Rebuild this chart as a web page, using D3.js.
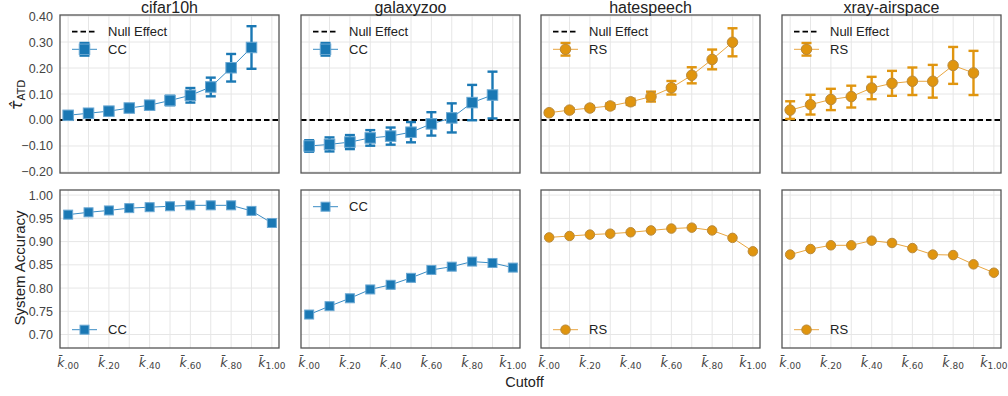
<!DOCTYPE html>
<html><head><meta charset="utf-8">
<script src="https://cdn.jsdelivr.net/npm/d3@7"></script>
<style>body{margin:0;background:#fff}svg{display:block;font-family:"Liberation Sans",Arial,sans-serif}</style>
</head><body><div id="chart"></div>
<script>
const datasets = ["cifar10h", "galaxyzoo", "hatespeech", "xray-airspace"];
const methods = ["CC", "CC", "RS", "RS"];
const cutoffsTop = [0, 0.1, 0.2, 0.3, 0.4, 0.5, 0.6, 0.7, 0.8, 0.9];
const cutoffsBottom = [0, 0.1, 0.2, 0.3, 0.4, 0.5, 0.6, 0.7, 0.8, 0.9, 1.0];
const xTickValues = [0, 0.2, 0.4, 0.6, 0.8, 1.0];
const xTickSubs = [".00", ".20", ".40", ".60", ".80", "1.00"];
const yTopTicks = [-0.2, -0.1, 0, 0.1, 0.2, 0.3, 0.4];
const yBotTicks = [0.70, 0.75, 0.80, 0.85, 0.90, 0.95, 1.00];

// tau ATD estimates and error half-widths
const tauCifar = [0.018, 0.026, 0.034, 0.046, 0.057, 0.075, 0.095, 0.127, 0.201, 0.279];
const errCifar = [0.006, 0.008, 0.010, 0.012, 0.014, 0.018, 0.028, 0.036, 0.053, 0.082];
const tauGalaxy = [-0.100, -0.094, -0.085, -0.069, -0.062, -0.047, -0.015, 0.008, 0.067, 0.096];
const errGalaxy = [0.022, 0.027, 0.027, 0.030, 0.033, 0.039, 0.045, 0.056, 0.068, 0.090];
const tauHate = [0.028, 0.038, 0.046, 0.054, 0.070, 0.090, 0.124, 0.172, 0.233, 0.299];
const errHate = [0.006, 0.007, 0.008, 0.010, 0.012, 0.019, 0.026, 0.031, 0.038, 0.054];
const tauXray = [0.038, 0.059, 0.079, 0.090, 0.123, 0.141, 0.149, 0.149, 0.210, 0.181];
const errXray = [0.034, 0.038, 0.041, 0.042, 0.043, 0.048, 0.053, 0.063, 0.071, 0.085];

// system accuracy
const accCifar = [0.958, 0.963, 0.967, 0.972, 0.974, 0.976, 0.978, 0.978, 0.978, 0.966, 0.940];
const accGalaxy = [0.743, 0.761, 0.778, 0.797, 0.807, 0.822, 0.839, 0.846, 0.857, 0.854, 0.844];
const accHate = [0.909, 0.912, 0.915, 0.917, 0.920, 0.924, 0.928, 0.930, 0.924, 0.908, 0.879];
const accXray = [0.872, 0.884, 0.892, 0.892, 0.902, 0.897, 0.886, 0.872, 0.871, 0.851, 0.833];

const tauAll = [tauCifar, tauGalaxy, tauHate, tauXray];
const errAll = [errCifar, errGalaxy, errHate, errXray];
const accAll = [accCifar, accGalaxy, accHate, accXray];

const W = 1008, H = 396;
const panelLeft = [60, 301, 541, 782], panelW = 219;
const topY0 = 15, topY1 = 173, botY0 = 190, botY1 = 348;
const colors = {CC: {fill: "#1a78b4", stroke: "#6aa8d3", line: "#3a8cc4"}, RS: {fill: "#e0950f", stroke: "#b98a3c", line: "#e9a640"}};
const gridC = "#e6e6e6", frameC = "#555", tickC = "#444";

const svg = d3.select("#chart").append("svg").attr("width", W).attr("height", H);

function marker(g, method, x, y, size) {
  const c = colors[method];
  if (method === "CC") {
    g.append("rect").attr("x", x - size/2).attr("y", y - size/2).attr("width", size).attr("height", size)
      .attr("fill", c.fill).attr("stroke", c.stroke).attr("stroke-width", 1);
  } else {
    g.append("circle").attr("cx", x).attr("cy", y).attr("r", size/2)
      .attr("fill", c.fill).attr("stroke", c.stroke).attr("stroke-width", 1);
  }
}

datasets.forEach((name, i) => {
  const m = methods[i], c = colors[m];
  const x = d3.scaleLinear().domain([-0.04, 1.035]).range([panelLeft[i], panelLeft[i] + panelW]);
  const yT = d3.scaleLinear().domain([-0.204, 0.404]).range([topY1, topY0]);
  const yB = d3.scaleLinear().domain([0.671, 1.011]).range([botY1, botY0]);

  [[yT, yTopTicks, topY0, topY1], [yB, yBotTicks, botY0, botY1]].forEach(([y, ticks, y0, y1], row) => {
    const g = svg.append("g");
    g.selectAll(".vg").data(cutoffsBottom).join("line")
      .attr("x1", d => x(d)).attr("x2", d => x(d)).attr("y1", y0).attr("y2", y1)
      .attr("stroke", gridC).attr("stroke-width", 1);
    g.selectAll(".hg").data(ticks).join("line")
      .attr("x1", panelLeft[i]).attr("x2", panelLeft[i] + panelW).attr("y1", d => y(d)).attr("y2", d => y(d))
      .attr("stroke", gridC).attr("stroke-width", 1);
    if (i === 0) {
      const ax = d3.axisLeft(y).tickValues(ticks).tickSize(0).tickPadding(7).tickFormat(d3.format(".2f"));
      const ag = svg.append("g").attr("transform", `translate(${panelLeft[i]},0)`).call(ax);
      ag.select(".domain").remove();
      ag.selectAll("text").attr("font-size", 12.5).attr("fill", tickC).attr("font-family", "Liberation Sans, Arial, sans-serif");
    }
  });

  // top row
  const gt = svg.append("g");
  gt.append("line").attr("x1", panelLeft[i]).attr("x2", panelLeft[i] + panelW).attr("y1", yT(0)).attr("y2", yT(0))
    .attr("stroke", "#000").attr("stroke-width", 1.8).attr("stroke-dasharray", "5.5,3");
  const tau = tauAll[i], err = errAll[i];
  gt.append("path").datum(cutoffsTop.map((k, j) => [k, tau[j]]))
    .attr("d", d3.line().x(d => x(d[0])).y(d => yT(d[1])))
    .attr("fill", "none").attr("stroke", c.line).attr("stroke-width", 1);
  cutoffsTop.forEach((k, j) => {
    const xx = x(k), lo = yT(tau[j] - err[j]), hi = yT(tau[j] + err[j]);
    gt.append("line").attr("x1", xx).attr("x2", xx).attr("y1", lo).attr("y2", hi).attr("stroke", c.fill).attr("stroke-width", 2.4);
    [lo, hi].forEach(yy => gt.append("line").attr("x1", xx - 5).attr("x2", xx + 5).attr("y1", yy).attr("y2", yy).attr("stroke", c.fill).attr("stroke-width", 2.4));
    marker(gt, m, xx, yT(tau[j]), m === "CC" ? 10.5 : 10.5);
  });
  gt.append("rect").attr("x", panelLeft[i]).attr("y", topY0).attr("width", panelW).attr("height", topY1 - topY0)
    .attr("fill", "none").attr("stroke", frameC).attr("stroke-width", 1.3);
  // legend
  const lx = panelLeft[i] + 12;
  gt.append("line").attr("x1", lx).attr("x2", lx + 25).attr("y1", 31.7).attr("y2", 31.7)
    .attr("stroke", "#000").attr("stroke-width", 1.8).attr("stroke-dasharray", "5.5,3");
  gt.append("text").attr("x", lx + 36).attr("y", 36.3).attr("font-size", 13).attr("fill", "#222").text("Null Effect");
  gt.append("line").attr("x1", lx).attr("x2", lx + 25).attr("y1", 49.3).attr("y2", 49.3).attr("stroke", c.line).attr("stroke-width", 1);
  const lmx = lx + 12.5;
  gt.append("line").attr("x1", lmx).attr("x2", lmx).attr("y1", 43).attr("y2", 55.6).attr("stroke", c.fill).attr("stroke-width", 2.4);
  [43, 55.6].forEach(yy => gt.append("line").attr("x1", lmx - 5).attr("x2", lmx + 5).attr("y1", yy).attr("y2", yy).attr("stroke", c.fill).attr("stroke-width", 2.4));
  marker(gt, m, lmx, 49.3, 10.5);
  gt.append("text").attr("x", lx + 36).attr("y", 54).attr("font-size", 13).attr("fill", "#222").text(m);

  // title
  svg.append("text").attr("x", panelLeft[i] + panelW / 2).attr("y", 12.5).attr("text-anchor", "middle")
    .attr("font-size", 16).attr("fill", "#222").text(name);

  // bottom row
  const gb = svg.append("g");
  const acc = accAll[i];
  gb.append("path").datum(cutoffsBottom.map((k, j) => [k, acc[j]]))
    .attr("d", d3.line().x(d => x(d[0])).y(d => yB(d[1])))
    .attr("fill", "none").attr("stroke", c.line).attr("stroke-width", 1);
  cutoffsBottom.forEach((k, j) => marker(gb, m, x(k), yB(acc[j]), m === "CC" ? 9 : 9.5));
  gb.append("rect").attr("x", panelLeft[i]).attr("y", botY0).attr("width", panelW).attr("height", botY1 - botY0)
    .attr("fill", "none").attr("stroke", frameC).attr("stroke-width", 1.3);
  const ly = (name === "galaxyzoo") ? 206.7 : 329.7;
  gb.append("line").attr("x1", lx).attr("x2", lx + 25).attr("y1", ly).attr("y2", ly).attr("stroke", c.line).attr("stroke-width", 1);
  marker(gb, m, lx + 12.5, ly, m === "CC" ? 9 : 9.5);
  gb.append("text").attr("x", lx + 36).attr("y", ly + 4.7).attr("font-size", 13).attr("fill", "#222").text(m);

  // x tick labels
  const xt = svg.append("g");
  xTickValues.forEach((v, j) => {
    const t = xt.append("text").attr("x", x(v)).attr("y", 366.5).attr("text-anchor", "middle")
      .attr("font-family", "DejaVu Sans, sans-serif").attr("fill", tickC);
    t.append("tspan").attr("font-size", 12.5).attr("font-style", "italic").text("k\u0304");
    t.append("tspan").attr("font-size", 9).attr("dy", 2.5).text(xTickSubs[j]);
  });
});

// axis labels
svg.append("text").attr("transform", "translate(22,95) rotate(-90)").attr("text-anchor", "middle")
  .attr("font-family", "DejaVu Sans, sans-serif").attr("fill", "#222")
  .call(t => {
    t.append("tspan").attr("font-size", 16).attr("font-style", "italic").text("\u03C4\u0302");
    t.append("tspan").attr("font-size", 10.5).attr("dy", 3).text("ATD");
  });
svg.append("text").attr("transform", "translate(25,268) rotate(-90)").attr("text-anchor", "middle")
  .attr("font-size", 15).attr("fill", "#222").text("System Accuracy");
svg.append("text").attr("x", 524.5).attr("y", 387).attr("text-anchor", "middle")
  .attr("font-size", 14.5).attr("fill", "#222").text("Cutoff");
</script></body></html>
